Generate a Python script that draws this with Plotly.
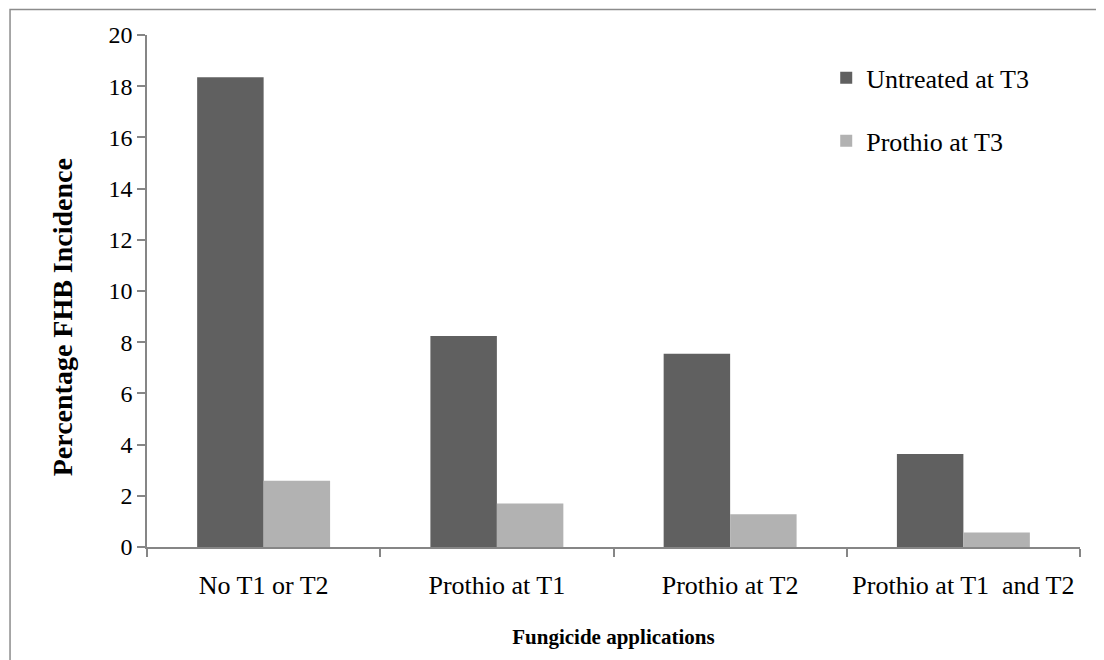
import plotly.graph_objects as go

categories = ["No T1 or T2", "Prothio at T1", "Prothio at T2", "Prothio at T1  and T2"]
untreated_t3 = [18.35, 8.24, 7.55, 3.63]
prothio_t3 = [2.59, 1.70, 1.28, 0.57]
series_names = ["Untreated at T3", "Prothio at T3"]
y_ticks = [0, 2, 4, 6, 8, 10, 12, 14, 16, 18, 20]

FONT = "Liberation Serif, Times New Roman, serif"
AXIS_GREY = "#868686"

fig = go.Figure()
fig.add_trace(go.Bar(x=categories, y=untreated_t3, name=series_names[0],
                     marker=dict(color="#606060", line=dict(width=0)),
                     legendgroup="a"))
fig.add_trace(go.Bar(x=categories, y=prothio_t3, name=series_names[1],
                     marker=dict(color="#b2b2b2", line=dict(width=0)),
                     legendgroup="b"))

fig.update_layout(
    width=1104, height=660,
    margin=dict(l=139, r=32, t=27, b=121),
    paper_bgcolor="white", plot_bgcolor="white",
    font=dict(family=FONT, size=24, color="black"),
    barmode="group", bargap=0.43, bargroupgap=0,
    showlegend=True,
    legend=dict(x=0.728, y=0.962, xanchor="left", yanchor="top",
                bgcolor="rgba(0,0,0,0)", font=dict(size=26, family=FONT),
                tracegroupgap=26, itemwidth=30),
    xaxis=dict(
        type="category", tickson="boundaries",
        showline=True, linecolor=AXIS_GREY, linewidth=1.5,
        ticks="outside", ticklen=8, tickcolor=AXIS_GREY, tickwidth=1.5,
        showgrid=False, zeroline=False,
        tickfont=dict(size=26, family=FONT),
        ticklabelstandoff=14,
        title=dict(text="<b>Fungicide applications</b>", standoff=30,
                   font=dict(size=21, family=FONT)),
    ),
    yaxis=dict(
        range=[0, 20], tickvals=y_ticks,
        showline=True, linecolor=AXIS_GREY, linewidth=1.5,
        ticks="outside", ticklen=8, tickcolor=AXIS_GREY, tickwidth=1.5,
        showgrid=False, zeroline=False,
        tickfont=dict(size=24, family=FONT),
    ),
    annotations=[dict(text="<b>Percentage FHB Incidence</b>", textangle=-90,
                      xref="paper", yref="paper", x=-0.0911, y=0.4486,
                      xanchor="center", yanchor="middle", showarrow=False,
                      font=dict(size=28, family=FONT, color="black"))],
    shapes=[dict(type="rect", xref="paper", yref="paper",
                 x0=-0.1468, x1=1.2, y0=-0.4, y1=1.05,
                 line=dict(color="#8c8c8c", width=1.5), layer="below")],
)

fig.write_html("out.html")
